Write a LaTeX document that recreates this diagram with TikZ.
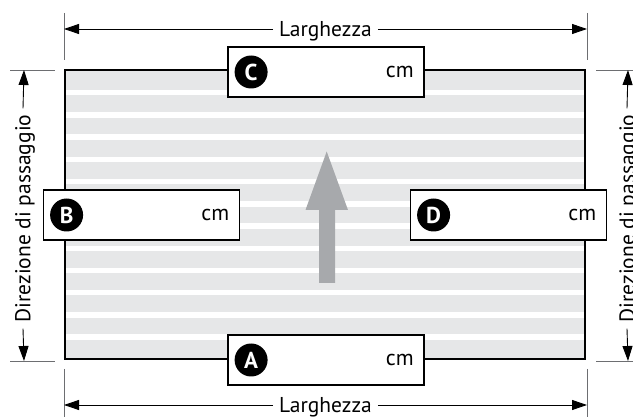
\documentclass[tikz,border=0pt]{standalone}
\usepackage{fontspec}
\setmainfont{PT Sans}
\usetikzlibrary{arrows.meta}
\definecolor{stripegray}{HTML}{E6E7E8}
\definecolor{arrowgray}{HTML}{A7A9AC}
\definecolor{tickgray}{HTML}{6D6E71}
\begin{document}
\begin{tikzpicture}[x=1pt,y=-1pt,
  dim/.style={line width=0.9pt, -{Triangle[length=15pt,width=10pt]}},
  tickline/.style={line width=0.9pt, draw=tickgray},
  lab/.style={font=\fontsize{21.5}{26}\selectfont, text height=15pt, text depth=0pt, inner xsep=6pt, inner ysep=0pt},
  mbox/.style={draw, line width=1.8pt, fill=white, minimum width=196pt, minimum height=50pt, inner sep=0pt},
  badge/.style={circle, fill=black, text=white, minimum size=33pt, inner sep=0pt, font=\fontsize{23}{26}\selectfont\bfseries},
  unitlab/.style={font=\fontsize{22}{26}\selectfont, inner sep=0pt, anchor=base east}]
\useasboundingbox (0,0) rectangle (633,417);
% floor with stripes
\fill[stripegray] (65,70) rectangle (585,359);
\foreach \k in {0,...,11} \fill[white] (65,{90+22.22*\k}) rectangle (585,{95.5+22.22*\k});
\draw[line width=2pt] (65,70) rectangle (585,359);
% direction arrow
\fill[arrowgray] (319,283) -- (319,210) -- (305.5,210) -- (326.7,151.5) -- (348,210) -- (335,210) -- (335,283) -- cycle;
% measurement boxes
\node[mbox] (C) at (326,72) {};
\node[mbox] (A) at (326,360) {};
\node[mbox] (B) at (141.5,215) {};
\node[mbox] (D) at (508.5,215) {};
\foreach \n in {A,B,C,D}{
  \node[badge] (b\n) at ([xshift=24pt]\n.west) {\n};
  \node[unitlab] (u\n) at ([xshift=-11pt,yshift=-5.5pt]\n.east) {cm};
}
% top width dimension
\coordinate (ttl1) at (64,13); \coordinate (ttl2) at (64,60);
\coordinate (ttr1) at (587,13); \coordinate (ttr2) at (587,60);
\draw[tickline] (ttl1) -- (ttl2);
\draw[tickline] (ttr1) -- (ttr2);
\coordinate (tl) at (64,29); \coordinate (tr) at (587,29);
\node[lab] (Lt) at (325.5,29) {Larghezza};
\draw[dim] (Lt.west) -- (tl);
\draw[dim] (Lt.east) -- (tr);
% bottom width dimension
\coordinate (btl1) at (64,369); \coordinate (btl2) at (64,417);
\coordinate (btr1) at (587,369); \coordinate (btr2) at (587,417);
\draw[tickline] (btl1) -- (btl2);
\draw[tickline] (btr1) -- (btr2);
\coordinate (bl) at (64,405); \coordinate (br) at (587,405);
\node[lab] (Lb) at (325.5,405) {Larghezza};
\draw[dim] (Lb.west) -- (bl);
\draw[dim] (Lb.east) -- (br);
% left direction dimension
\coordinate (ltt1) at (10,70); \coordinate (ltt2) at (55,70);
\coordinate (ltb1) at (10,361); \coordinate (ltb2) at (55,361);
\draw[tickline] (ltt1) -- (ltt2);
\draw[tickline] (ltb1) -- (ltb2);
\coordinate (lt) at (24,70); \coordinate (lb) at (24,361);
\node[lab, rotate=90] (Pl) at (23,218.5) {Direzione di passaggio};
\draw[dim] (Pl.east) -- (lt);
\draw[dim] (Pl.west) -- (lb);
% right direction dimension
\coordinate (rtt1) at (596,70); \coordinate (rtt2) at (633,70);
\coordinate (rtb1) at (596,361); \coordinate (rtb2) at (633,361);
\draw[tickline] (rtt1) -- (rtt2);
\draw[tickline] (rtb1) -- (rtb2);
\coordinate (rt) at (628,70); \coordinate (rb) at (628,361);
\node[lab, rotate=90] (Pr) at (627,218.5) {Direzione di passaggio};
\draw[dim] (Pr.east) -- (rt);
\draw[dim] (Pr.west) -- (rb);
\end{tikzpicture}
\end{document}
